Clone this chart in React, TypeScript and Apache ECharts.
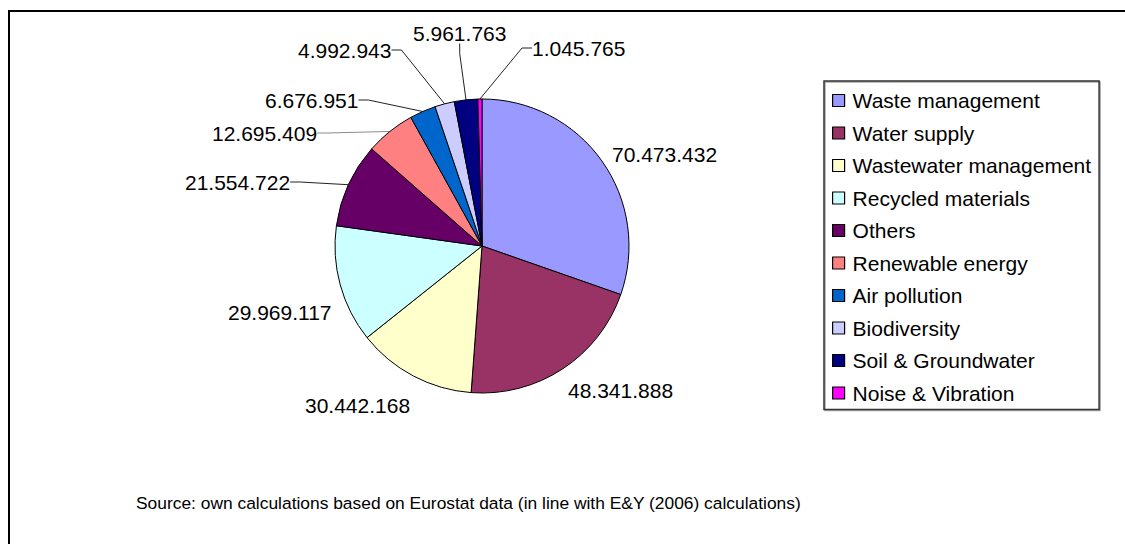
import React, { useEffect, useRef } from "react";
import * as echarts from "echarts";

const categories = [
  "Waste management",
  "Water supply",
  "Wastewater management",
  "Recycled materials",
  "Others",
  "Renewable energy",
  "Air pollution",
  "Biodiversity",
  "Soil & Groundwater",
  "Noise & Vibration",
];
const values = [70473432, 48341888, 30442168, 29969117, 21554722, 12695409, 6676951, 4992943, 5961763, 1045765];
const colors = ["#9999FF", "#993366", "#FFFFCC", "#CCFFFF", "#660066", "#FF8080", "#0066CC", "#CCCCFF", "#000080", "#FF00FF"];
const sourceNote = "Source: own calculations based on Eurostat data (in line with E&Y (2006) calculations)";

// label anchors: left edge x, vertical middle y (px)
const labelAnchors = [
  [612, 154],
  [568, 390],
  [305, 405],
  [228, 312],
  [185, 182],
  [212, 133],
  [265, 100],
  [298, 50],
  [413, 33],
  [532, 48],
];
const showGuide = [false, false, false, false, true, true, true, true, true, true];
const guideColors = ["#000", "#000", "#000", "#000", "#222", "#8c8c8c", "#222", "#222", "#222", "#222"];

const FONT = "'Liberation Sans', Arial, Helvetica, sans-serif";

function fmt(v: number): string {
  return String(v).replace(/\B(?=(\d{3})+(?!\d))/g, ".");
}

export default function App() {
  const ref = useRef<HTMLDivElement>(null);
  useEffect(() => {
    if (!ref.current) return;
    const chart = echarts.init(ref.current, undefined, { renderer: "svg" });
    const data = categories.map((name, i) => ({
      name,
      value: values[i],
      itemStyle: { color: colors[i] },
      labelLine: { show: showGuide[i], lineStyle: { color: guideColors[i], width: 1 } },
    }));
    chart.setOption({
      animation: false,
      backgroundColor: "#fff",
      legend: {
        orient: "vertical",
        left: 824,
        top: 81,
        data: categories,
        selectedMode: false,
        icon: "rect",
        itemWidth: 12,
        itemHeight: 12,
        itemGap: 11.5,
        padding: [9, 8, 6, 8],
        borderColor: "#333",
        borderWidth: 1.5,
        shadowColor: "rgba(0,0,0,0.35)",
        shadowOffsetX: 1,
        shadowOffsetY: 1,
        shadowBlur: 1,
        itemStyle: { borderColor: "#000", borderWidth: 1.2 },
        textStyle: { fontFamily: FONT, fontSize: 21, color: "#000", lineHeight: 21, padding: [0, 0, 0, 3] },
      },
      graphic: [
        {
          type: "rect",
          shape: { x: 9, y: 11, width: 1300, height: 700 },
          style: { fill: "none", stroke: "#000", lineWidth: 2 },
          silent: true,
        },
        {
          type: "text",
          x: 136,
          y: 503,
          style: {
            text: sourceNote,
            fontFamily: FONT,
            fontSize: 17.4,
            fill: "#000",
            verticalAlign: "middle",
            align: "left",
          },
          silent: true,
        },
      ],
      series: [
        {
          type: "pie",
          center: [482, 246],
          radius: 147,
          startAngle: 90,
          clockwise: true,
          avoidLabelOverlap: false,
          itemStyle: { borderColor: "#000", borderWidth: 1 },
          emphasis: { disabled: true },
          label: {
            show: true,
            position: "outside",
            formatter: (p: any) => fmt(p.value),
            fontFamily: FONT,
            fontSize: 21,
            color: "#000",
          },
          labelLine: { show: true, length: 10, length2: 10, lineStyle: { width: 1 } },
          labelLayout: (params: any) => {
            const a = labelAnchors[params.dataIndex];
            return { x: a[0], y: a[1], align: "left", verticalAlign: "middle" };
          },
          data,
        },
      ],
    });
    return () => chart.dispose();
  }, []);
  return (
    <div
      ref={ref}
      style={{ position: "absolute", left: 0, top: 0, width: 1125, height: 544, background: "#fff" }}
    />
  );
}
